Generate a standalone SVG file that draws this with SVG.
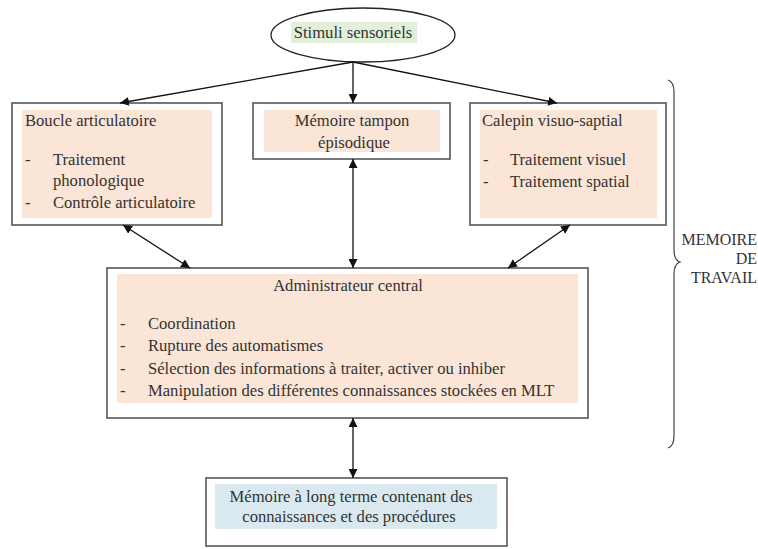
<svg xmlns="http://www.w3.org/2000/svg" width="758" height="549" viewBox="0 0 758 549">
<style>
text{font-family:"Liberation Serif","Times New Roman",Times,"DejaVu Serif",serif;font-size:16.6px;fill:#333}
.box{fill:#fff;stroke:#555;stroke-width:1.6}
.peach{fill:#fbe5d6}
.c{text-anchor:middle}
.r{text-anchor:end;font-size:16px}
.conn line{stroke:#111;stroke-width:1.3;marker-end:url(#ah)}
.bi line{marker-start:url(#ah)}
</style>
<defs>
<marker id="ah" viewBox="0 0 10 10" refX="10" refY="5" markerWidth="9" markerHeight="9" markerUnits="userSpaceOnUse" orient="auto-start-reverse">
<path d="M0,0 L10,5 L0,10 z" fill="#111"/>
</marker>
</defs>
<rect width="758" height="549" fill="#fff"/>

<g id="stimuli">
<ellipse cx="363" cy="35" rx="92" ry="27" fill="#fff" stroke="#222" stroke-width="1.3"/>
<rect x="291" y="22" width="126" height="21" fill="#e2efd9"/>
<text class="c" x="353" y="38">Stimuli sensoriels</text>
</g>

<g id="boucle">
<rect class="box" x="12" y="103" width="210" height="122"/>
<rect class="peach" x="22" y="110" width="190" height="108"/>
<text x="25" y="126">Boucle articulatoire</text>
<text x="25" y="165">-</text><text x="53" y="165">Traitement</text>
<text x="53" y="186">phonologique</text>
<text x="25" y="208">-</text><text x="53" y="208">Contrôle articulatoire</text>
</g>

<g id="tampon">
<rect class="box" x="253" y="103" width="197" height="56"/>
<rect class="peach" x="264" y="110" width="176" height="42"/>
<text class="c" x="352" y="126">Mémoire tampon</text>
<text class="c" x="354" y="148">épisodique</text>
</g>

<g id="calepin">
<rect class="box" x="470" y="103" width="196" height="122"/>
<rect class="peach" x="480" y="110" width="177" height="108"/>
<text x="482" y="126">Calepin visuo-saptial</text>
<text x="483" y="165">-</text><text x="510" y="165">Traitement visuel</text>
<text x="483" y="187">-</text><text x="510" y="187">Traitement spatial</text>
</g>

<g id="admin">
<rect class="box" x="107" y="268" width="481" height="150"/>
<rect class="peach" x="117" y="274" width="461" height="129"/>
<text class="c" x="348" y="291">Administrateur central</text>
<text x="120" y="329">-</text><text x="148" y="329">Coordination</text>
<text x="120" y="351">-</text><text x="148" y="351">Rupture des automatismes</text>
<text x="120" y="374">-</text><text x="148" y="374">Sélection des informations à traiter, activer ou inhiber</text>
<text x="120" y="396">-</text><text x="148" y="396">Manipulation des différentes connaissances stockées en MLT</text>
</g>

<g id="mlt">
<rect class="box" x="206" y="478" width="301" height="68"/>
<rect x="215" y="484" width="282" height="45" fill="#dae9ef"/>
<text class="c" x="351" y="502">Mémoire à long terme contenant des</text>
<text class="c" x="349" y="522">connaissances et des procédures</text>
</g>

<g id="memoire-travail">
<path d="M668,80 Q674,82 674,92 L674,250 Q674,260 680,262 Q674,264 674,274 L674,436 Q674,446 668,448" fill="none" stroke="#444" stroke-width="1.2"/>
<text class="r" x="757" y="245">MEMOIRE</text>
<text class="r" x="757" y="264">DE</text>
<text class="r" x="757" y="283">TRAVAIL</text>
</g>

<g id="connectors" class="conn">
<line x1="353" y1="62" x2="120" y2="103"/>
<line x1="353" y1="62" x2="353" y2="103"/>
<line x1="353" y1="62" x2="557" y2="103"/>
<g class="bi">
<line x1="123" y1="225" x2="190" y2="268"/>
<line x1="353" y1="159" x2="353" y2="268"/>
<line x1="570" y1="225" x2="508" y2="268"/>
<line x1="353" y1="418" x2="353" y2="478"/>
</g>
</g>
</svg>
